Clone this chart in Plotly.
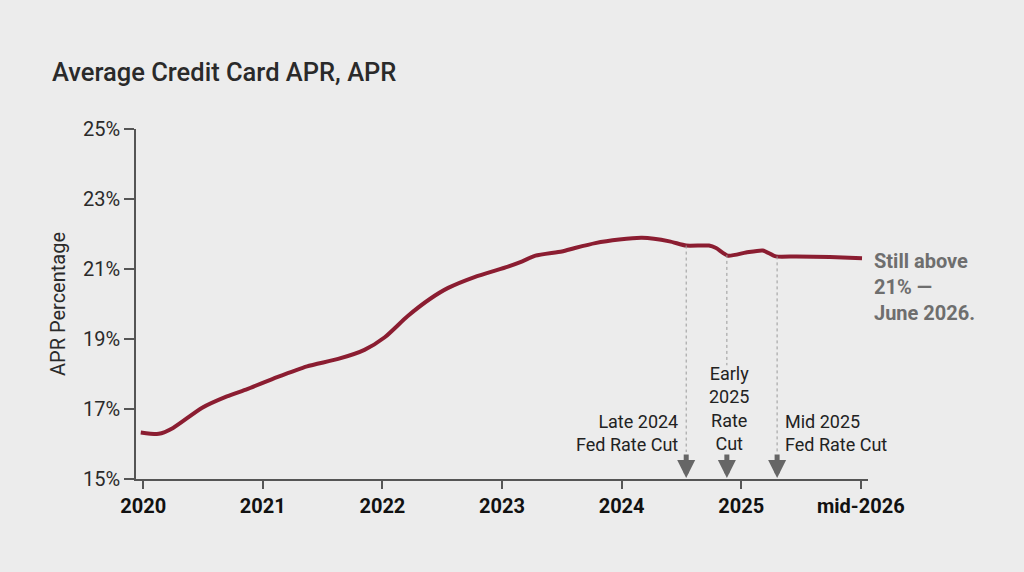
import numpy as np
import plotly.graph_objects as go

# Data (fractional years, APR %)
years = [2019.98, 2020.13, 2020.25, 2020.49, 2020.70, 2020.87, 2021.12, 2021.37, 2021.63,
         2021.85, 2022.02, 2022.21, 2022.40, 2022.55, 2022.77, 2023.05, 2023.17, 2023.28,
         2023.50, 2023.61, 2023.78, 2023.98, 2024.17, 2024.40, 2024.54, 2024.73, 2024.79,
         2024.89, 2025.04, 2025.18, 2025.29, 2025.46, 2025.74, 2026.01]
apr = [16.33, 16.29, 16.46, 17.03, 17.36, 17.57, 17.91, 18.22, 18.43,
       18.69, 19.05, 19.65, 20.15, 20.46, 20.77, 21.07, 21.22, 21.38,
       21.50, 21.60, 21.74, 21.84, 21.89, 21.79, 21.67, 21.67, 21.60,
       21.38, 21.47, 21.53, 21.36, 21.36, 21.34, 21.31]

tick_vals_x = [2020, 2021, 2022, 2023, 2024, 2025, 2026]
tick_text_x = ["2020", "2021", "2022", "2023", "2024", "2025", "mid-2026"]
tick_vals_y = [15, 17, 19, 21, 23, 25]
tick_text_y = ["15%", "17%", "19%", "21%", "23%", "25%"]

cut_x = [2024.54, 2024.88, 2025.30]
cut_labels = ["Late 2024<br>Fed Rate Cut", "Early<br>2025<br>Rate<br>Cut", "Mid 2025<br>Fed Rate Cut"]

end_note = "<b>Still above<br>21% \u2014<br>June 2026.</b>"

LINE_COLOR = "#8b1d31"
BG = "#ececec"
FONT = "Roboto"

fig = go.Figure()
fig.add_trace(go.Scatter(x=years, y=apr, mode="lines",
                         line=dict(color=LINE_COLOR, width=4, shape="spline", smoothing=0.6),
                         hoverinfo="skip", showlegend=False))

px_per_unit = 35.0  # approx pixels per percentage point
arrow_len = 26

# dotted guide lines and arrows
for i, cx in enumerate(cut_x):
    y_top = float(np.interp(cx, years, apr))
    y_bot = 15 + (arrow_len + 1) / px_per_unit
    if i == 1:
        y_bot = 18.25
    fig.add_shape(type="line", x0=cx, x1=cx, y0=y_top, y1=y_bot, xref="x", yref="y",
                  line=dict(color="#9a9a9a", width=1, dash="dot"))
    fig.add_annotation(x=cx, y=15, xref="x", yref="y", ax=0, ay=-arrow_len,
                       showarrow=True, arrowhead=2, arrowsize=0.72, arrowwidth=5,
                       arrowcolor="#666666", standoff=1, text="")

def y_from_px(px_above_axis):
    return 15 + px_above_axis / px_per_unit

label_font = dict(family=FONT, size=18, color="#222222")
fig.add_annotation(x=cut_x[0], y=y_from_px(479.3 - 433), xref="x", yref="y", text=cut_labels[0],
                   showarrow=False, xanchor="right", yanchor="middle", align="right", xshift=-6,
                   font=label_font)
fig.add_annotation(x=cut_x[1], y=y_from_px(479.3 - 409), xref="x", yref="y", text=cut_labels[1],
                   showarrow=False, xanchor="center", yanchor="middle", align="center", xshift=2,
                   font=label_font)
fig.add_annotation(x=cut_x[2], y=y_from_px(479.3 - 433), xref="x", yref="y", text=cut_labels[2],
                   showarrow=False, xanchor="left", yanchor="middle", align="left", xshift=6,
                   font=label_font)

# end note
fig.add_annotation(x=years[-1], y=y_from_px(479.3 - 287), xref="x", yref="y", text=end_note,
                   showarrow=False, xanchor="left", yanchor="middle", align="left", xshift=10,
                   font=dict(family=FONT, size=20, color="#6e6e6e"))

fig.update_layout(
    width=1024, height=572,
    paper_bgcolor=BG, plot_bgcolor=BG,
    margin=dict(l=136, r=156, t=129, b=93),
    font=dict(family=FONT, color="#2a2a2a"),
    title=dict(text="Average Credit Card APR, APR", x=52 / 1024, xanchor="left",
               y=1 - 72 / 572, yanchor="middle",
               font=dict(family=FONT, size=25.5, color="#2a2a2a", weight=500)),
    showlegend=False,
)
fig.update_xaxes(range=[2019.94, 2026.06], tickvals=tick_vals_x, ticktext=tick_text_x,
                 showgrid=False, zeroline=False, showline=True, linecolor="#555555", linewidth=1.5,
                 ticks="outside", ticklen=8, tickcolor="#555555", tickwidth=1.5,
                 tickfont=dict(family=FONT, size=20, color="#111111", weight="bold"))
fig.update_yaxes(range=[15, 25], tickvals=tick_vals_y, ticktext=tick_text_y,
                 showgrid=False, zeroline=False, showline=True, linecolor="#555555", linewidth=1.5,
                 ticks="outside", ticklen=10, tickcolor="#555555", tickwidth=1.5,
                 tickfont=dict(family=FONT, size=20, color="#2a2a2a"),
                 title=dict(text="APR Percentage", standoff=12,
                            font=dict(family=FONT, size=20, color="#2a2a2a")))

fig.write_html("out.html")
